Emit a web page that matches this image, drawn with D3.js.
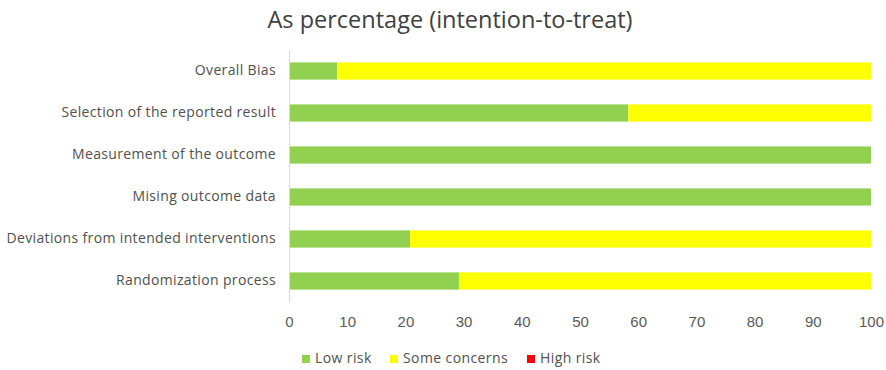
<!DOCTYPE html>
<html>
<head>
<meta charset="utf-8">
<script src="https://cdn.jsdelivr.net/npm/d3@7"></script>
<style>
  body { margin: 0; background: #fff; }
</style>
</head>
<body>
<div id="chart"></div>
<script>
const domains = [
    'Overall Bias',
    'Selection of the reported result',
    'Measurement of the outcome',
    'Mising outcome data',
    'Deviations from intended interventions',
    'Randomization process'
];
const lowRisk = [8.3, 58.3, 100, 100, 20.8, 29.2];
const someConcerns = [91.7, 41.7, 0, 0, 79.2, 70.8];
const highRisk = [0, 0, 0, 0, 0, 0];
const seriesNames = ['Low risk', 'Some concerns', 'High risk'];
const xTicks = [0, 10, 20, 30, 40, 50, 60, 70, 80, 90, 100];

const colors = ['#92d050', '#ffff00', '#ff0000'];

const width = 886, height = 370;
const margin = { top: 50, right: 15, bottom: 68, left: 289 };
const w = width - margin.left - margin.right;
const h = height - margin.top - margin.bottom;

const svg = d3.select('#chart').append('svg')
    .attr('width', width)
    .attr('height', height)
    .style('display', 'block');

// titolo
svg.append('text')
    .attr('x', 450).attr('y', 28)
    .attr('text-anchor', 'middle')
    .style('font-family', '"Open Sans", sans-serif')
    .style('font-size', '23.5px')
    .attr('fill', '#404040')
    .text('As percentage (intention-to-treat)');

const g = svg.append('g').attr('transform', `translate(${margin.left},${margin.top})`);

const x = d3.scaleLinear().domain([0, 100]).range([0, 582]);
const y = d3.scaleBand().domain(domains).range([0, h]).paddingInner(0.59).paddingOuter(0.295);

// stack
const rows = domains.map((d, i) => ({ domain: d, low: lowRisk[i], some: someConcerns[i], high: highRisk[i] }));
const stack = d3.stack().keys(['low', 'some', 'high'])(rows);

stack.forEach((layer, k) => {
    g.append('g').selectAll('rect').data(layer).join('rect')
        .attr('x', d => x(d[0]))
        .attr('width', d => x(d[1]) - x(d[0]))
        .attr('y', d => y(d.data.domain))
        .attr('height', y.bandwidth())
        .attr('fill', colors[k]);
});

// asse y
g.append('g')
    .call(d3.axisLeft(y).tickSize(0).tickPadding(13))
    .call(a => a.select('.domain').attr('stroke', '#d9d9d9'))
    .call(a => a.selectAll('text')
        .attr('fill', '#505050')
        .style('font-family', '"Open Sans", sans-serif')
        .style('font-size', '14px')
        .style('letter-spacing', '0.35px'));

// asse x (solo etichette)
g.append('g').attr('transform', `translate(0,${h})`)
    .call(d3.axisBottom(x).tickValues(xTicks).tickSize(0).tickPadding(14))
    .call(a => a.select('.domain').remove())
    .call(a => a.selectAll('text')
        .attr('fill', '#595959')
        .style('font-family', '"Liberation Sans", sans-serif')
        .style('font-size', '15px'));

// legenda
const legendX = [302, 390, 527];
const legend = svg.append('g').attr('transform', 'translate(0,358)');
seriesNames.forEach((name, i) => {
    legend.append('rect')
        .attr('x', legendX[i]).attr('y', -3).attr('width', 8).attr('height', 8)
        .attr('fill', colors[i]);
    legend.append('text')
        .attr('x', legendX[i] + 13).attr('y', 0)
        .attr('dy', '0.35em')
        .attr('fill', '#505050')
        .style('font-family', '"Open Sans", sans-serif')
        .style('font-size', '14px')
        .style('letter-spacing', '0.4px')
        .text(name);
});
</script>
</body>
</html>
